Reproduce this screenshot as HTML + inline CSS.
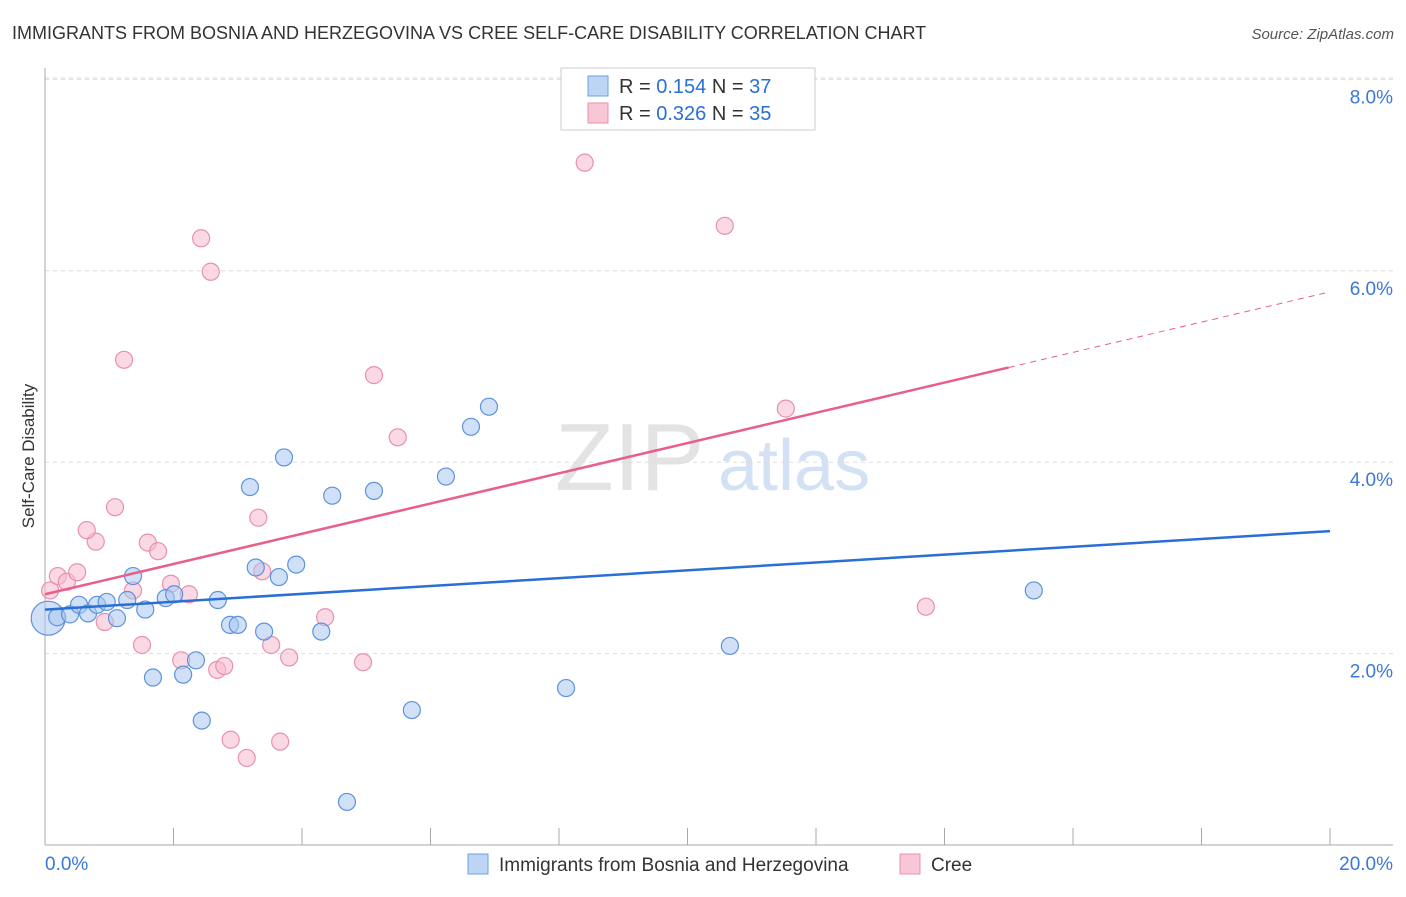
<!DOCTYPE html>
<html><head><meta charset="utf-8">
<style>
body{margin:0;background:#fff;font-family:"Liberation Sans",sans-serif;}
svg text{font-family:"Liberation Sans",sans-serif;}
</style></head>
<body>
<svg id="chart" width="1406" height="892" viewBox="0 0 1406 892" xmlns="http://www.w3.org/2000/svg">
<text x="12" y="39" font-size="18" fill="#333">IMMIGRANTS FROM BOSNIA AND HERZEGOVINA VS CREE SELF-CARE DISABILITY CORRELATION CHART</text>
<text x="1394" y="39" font-size="15" fill="#555" text-anchor="end" font-style="italic">Source: ZipAtlas.com</text>
<text transform="translate(34,456) rotate(-90)" font-size="17" fill="#333" text-anchor="middle">Self-Care Disability</text>
<g>
<text x="555" y="490" font-size="96" fill="#ddd" font-family="Liberation Serif" opacity="0.8">ZIP</text>
<text x="718" y="490" font-size="72" fill="#c9daf2" opacity="0.8">atlas</text>
</g>
<g id="grid"></g>
<g id="axes"></g>
<g id="points"></g>
<g id="lines"></g>
<g>
<rect x="561" y="68" width="254" height="62" fill="#fff" stroke="#ccc"/>
<rect x="588" y="76" width="20" height="20" fill="#bcd5f5" stroke="#6f9fe0"/>
<text x="619" y="93" font-size="20" fill="#333">R = <tspan fill="#2a6fd6">0.154</tspan>   N = <tspan fill="#2a6fd6">37</tspan></text>
<rect x="588" y="103" width="20" height="20" fill="#f9c6d6" stroke="#e890ae"/>
<text x="619" y="120" font-size="20" fill="#333">R = <tspan fill="#2a6fd6">0.326</tspan>   N = <tspan fill="#2a6fd6">35</tspan></text>
</g>
<g>
<rect x="468" y="854" width="20" height="20" fill="#bcd5f5" stroke="#6f9fe0"/>
<text x="499" y="871" font-size="19" fill="#333">Immigrants from Bosnia and Herzegovina</text>
<rect x="900" y="854" width="20" height="20" fill="#f9c6d6" stroke="#e890ae"/>
<text x="931" y="871" font-size="19" fill="#333">Cree</text>
</g>
</svg>
<script>
const blueX=[0.05,0.19,0.39,0.53,0.67,0.81,0.96,1.12,1.28,1.37,1.56,1.68,1.88,2.01,2.15,2.35,2.44,2.69,2.88,3.00,3.19,3.28,3.41,3.64,3.72,3.91,4.30,4.47,4.70,5.12,5.71,6.24,6.63,6.91,8.11,10.66,15.39];
const blueY=[2.37,2.38,2.41,2.51,2.42,2.51,2.54,2.37,2.56,2.81,2.46,1.75,2.58,2.62,1.78,1.93,1.30,2.56,2.30,2.30,3.74,2.90,2.23,2.80,4.05,2.93,2.23,3.65,0.45,3.70,1.41,3.85,4.37,4.58,1.64,2.08,2.66];
const pinkX=[0.08,0.20,0.34,0.50,0.79,0.65,0.93,1.09,1.23,1.37,1.51,1.60,1.76,1.96,2.12,2.24,2.43,2.58,2.68,2.79,2.89,3.14,3.32,3.38,3.52,3.66,3.80,4.36,4.95,5.12,5.49,8.40,10.58,11.53,13.71];
const pinkY=[2.66,2.81,2.75,2.85,3.17,3.29,2.33,3.53,5.07,2.66,2.09,3.16,3.07,2.73,1.93,2.62,6.34,5.99,1.83,1.87,1.10,0.91,3.42,2.86,2.09,1.08,1.96,2.38,1.91,4.91,4.26,7.13,6.47,4.56,2.49];
const blueTrend=[2.46,3.28];
const pinkTrend=[2.62,5.78];
const pinkSolidEnd=15.0;
const yTicks=[2,4,6,8];
const yTickLabels=["2.0%","4.0%","6.0%","8.0%"];
const xTicks=[0,2,4,6,8,10,12,14,16,18,20];

const NS="http://www.w3.org/2000/svg";
const X=v=>45+v/20*1285;
const Y=v=>845-v*95.7;
function mk(tag,attrs,parent){const e=document.createElementNS(NS,tag);for(const k in attrs)e.setAttribute(k,attrs[k]);parent.appendChild(e);return e;}
const grid=document.getElementById('grid'),axes=document.getElementById('axes'),pts=document.getElementById('points'),lines=document.getElementById('lines');
yTicks.forEach((t,i)=>{
 const g=mk('line',{x1:45,x2:1393,y1:Y(t),y2:Y(t),stroke:'#ddd','stroke-dasharray':'4,4'},grid);
 
 
 const tx=mk('text',{x:1393,y:Y(t)+24,'font-size':19,fill:'#3a78d8','text-anchor':'end'},axes);
 tx.textContent=yTickLabels[i];
 
 
});
const gl=mk('line',{x1:45,x2:1393,y1:78,y2:78,stroke:'#ddd','stroke-dasharray':'4,4'},grid);


const ya=mk('line',{x1:45,x2:45,y1:68,y2:845,stroke:'#aaa'},axes);


const xa=mk('line',{x1:45,x2:1393,y1:845,y2:845,stroke:'#aaa'},axes);


xTicks.forEach(t=>{
 const l=mk('line',{x1:X(t),x2:X(t),y1:828,y2:845,stroke:'#aaa'},axes);
 
 
});
const x0=mk('text',{x:45,y:870,'font-size':19,fill:'#3a78d8'},axes);x0.textContent='0.0%';


const x1=mk('text',{x:1393,y:870,'font-size':19,fill:'#3a78d8','text-anchor':'end'},axes);x1.textContent='20.0%';



function drawPts(xs,ys,fill,stroke,name){
 xs.forEach((x,i)=>{
  const r=(i===0&&name==='blue-point')?17:8.5;
  const c=mk('circle',{cx:X(x),cy:Y(ys[i]),r:r,fill:fill,'fill-opacity':0.55,stroke:stroke,'stroke-width':1.2},pts);
  
  
 });
}
drawPts(pinkX,pinkY,'#f7b9cd','#e890ae','pink-point');
drawPts(blueX,blueY,'#a9c8f0','#5d92dc','blue-point');

const bl=mk('line',{x1:X(0),y1:Y(blueTrend[0]),x2:X(20),y2:Y(blueTrend[1]),stroke:'#2a6fd6','stroke-width':2.5},lines);


const pv=v=>pinkTrend[0]+(pinkTrend[1]-pinkTrend[0])*v/20;
const ps=mk('line',{x1:X(0),y1:Y(pinkTrend[0]),x2:X(pinkSolidEnd),y2:Y(pv(pinkSolidEnd)),stroke:'#e8608a','stroke-width':2.5},lines);


const pd=mk('line',{x1:X(pinkSolidEnd),y1:Y(pv(pinkSolidEnd)),x2:X(20),y2:Y(pinkTrend[1]),stroke:'#e8608a','stroke-width':1,'stroke-dasharray':'6,5'},lines);


</script>
</body></html>
